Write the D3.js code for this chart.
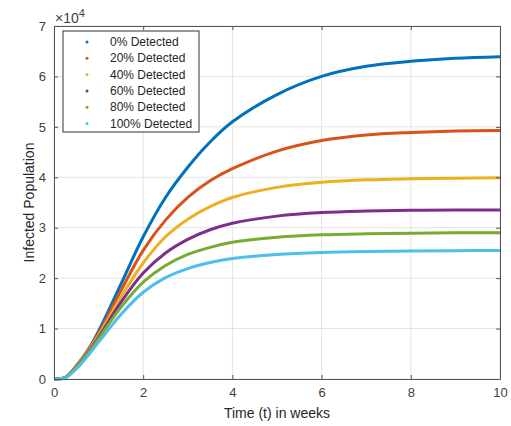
<!DOCTYPE html>
<html>
<head>
<meta charset="utf-8">
<script src="https://cdn.jsdelivr.net/npm/d3@7"></script>
<style>
  body { margin: 0; background: #fff; }
  svg { font-family: "Liberation Sans", Arial, sans-serif; }
</style>
</head>
<body>
<svg id="chart" width="511" height="426"></svg>
<script>
// données (valeurs en unités de 10^4)
const weeks = [0, 0.25, 0.5, 0.75, 1, 1.5, 2, 2.5, 3, 3.5, 4, 5, 6, 7, 8, 9, 10]
const det0 = [0, 0.03, 0.26, 0.56, 0.95, 1.88, 2.82, 3.6, 4.2, 4.7, 5.1, 5.64, 6.0, 6.2, 6.3, 6.36, 6.39]
const det20 = [0, 0.03, 0.26, 0.55, 0.9, 1.75, 2.55, 3.15, 3.6, 3.93, 4.17, 4.52, 4.73, 4.84, 4.89, 4.92, 4.93]
const det40 = [0, 0.03, 0.25, 0.53, 0.87, 1.62, 2.3, 2.82, 3.17, 3.42, 3.6, 3.8, 3.9, 3.95, 3.97, 3.98, 3.99]
const det60 = [0, 0.03, 0.24, 0.51, 0.83, 1.52, 2.1, 2.5, 2.77, 2.96, 3.09, 3.23, 3.3, 3.33, 3.345, 3.35, 3.35]
const det80 = [0, 0.03, 0.23, 0.49, 0.8, 1.42, 1.92, 2.25, 2.47, 2.61, 2.71, 2.81, 2.86, 2.88, 2.89, 2.9, 2.9]
const det100 = [0, 0.02, 0.2, 0.45, 0.73, 1.28, 1.72, 2.01, 2.19, 2.31, 2.39, 2.47, 2.51, 2.53, 2.54, 2.545, 2.55]
const labels = ["0% Detected", "20% Detected", "40% Detected", "60% Detected", "80% Detected", "100% Detected"]
const couleurs = ["#0072BD", "#D95319", "#EDB120", "#7E2F8E", "#77AC30", "#4DBEEE"]
const xTicks = [0, 2, 4, 6, 8, 10]
const yTicks = [0, 1, 2, 3, 4, 5, 6, 7]

const series = [det0, det20, det40, det60, det80, det100]

const svg = d3.select("#chart")
const mLeft = 54, mRight = 500, mTop = 26, mBottom = 379

const x = d3.scaleLinear().domain([0, 10]).range([mLeft, mRight])
const y = d3.scaleLinear().domain([0, 7]).range([mBottom, mTop])

// grille
const grille = svg.append("g")
grille.selectAll(".gx").data(xTicks).enter().append("line")
  .attr("x1", d => x(d)).attr("x2", d => x(d))
  .attr("y1", mTop).attr("y2", mBottom)
  .attr("stroke", "#e3e3e3").attr("stroke-width", 1)
grille.selectAll(".gy").data(yTicks).enter().append("line")
  .attr("x1", mLeft).attr("x2", mRight)
  .attr("y1", d => y(d)).attr("y2", d => y(d))
  .attr("stroke", "#e3e3e3").attr("stroke-width", 1)

// courbes
const ligne = d3.line()
  .x((d, i) => x(weeks[i]))
  .y(d => y(d))
  .curve(d3.curveCatmullRom.alpha(0.5))

svg.append("g").selectAll("path")
  .data(series)
  .enter()
  .append("path")
  .attr("d", d => ligne(d))
  .attr("fill", "none")
  .attr("stroke", (d, i) => couleurs[i])
  .attr("stroke-width", 3)

// axes (ticks vers l'intérieur, comme matlab)
const axeX = svg.append("g").attr("transform", `translate(0,${mBottom})`)
  .call(d3.axisBottom(x).tickValues(xTicks).tickSizeInner(-4).tickSizeOuter(0).tickPadding(9))
const axeY = svg.append("g").attr("transform", `translate(${mLeft},0)`)
  .call(d3.axisLeft(y).tickValues(yTicks).tickFormat(d3.format("d")).tickSizeInner(-4).tickSizeOuter(0).tickPadding(8))
const axeHaut = svg.append("g").attr("transform", `translate(0,${mTop})`)
  .call(d3.axisTop(x).tickValues(xTicks).tickSizeInner(-4).tickSizeOuter(0).tickFormat(""))
const axeDroit = svg.append("g").attr("transform", `translate(${mRight},0)`)
  .call(d3.axisRight(y).tickValues(yTicks).tickSizeInner(-4).tickSizeOuter(0).tickFormat(""))

;[axeX, axeY, axeHaut, axeDroit].forEach(a => {
  a.select(".domain").attr("stroke", "#555").attr("stroke-width", 1)
  a.selectAll(".tick line").attr("stroke", "#555")
  a.selectAll("text").attr("fill", "#404040").attr("font-size", 13)
    .attr("font-family", "Liberation Sans, Arial, sans-serif")
})

// exposant
const expo = svg.append("text")
  .attr("x", 55).attr("y", 23)
  .attr("fill", "#404040").attr("font-size", 14)
expo.append("tspan").text("\u00d710")
expo.append("tspan").text("4").attr("font-size", 11).attr("dy", -6)

// titres des axes
svg.append("text")
  .text("Time (t) in weeks")
  .attr("x", (mLeft + mRight) / 2)
  .attr("y", 418)
  .attr("text-anchor", "middle")
  .attr("fill", "#262626").attr("font-size", 14)

svg.append("text")
  .text("Infected Population")
  .attr("transform", `translate(34,${(mTop + mBottom) / 2}) rotate(-90)`)
  .attr("text-anchor", "middle")
  .attr("fill", "#262626").attr("font-size", 14)

// légende
const leg = svg.append("g")
leg.append("rect")
  .attr("x", 63).attr("y", 31)
  .attr("width", 136).attr("height", 101)
  .attr("fill", "#fff").attr("stroke", "#333").attr("stroke-width", 1)

const items = leg.selectAll(".item")
  .data(labels)
  .enter()
  .append("g")
  .attr("transform", (d, i) => `translate(0,${42 + i * 16.3})`)

items.append("circle")
  .attr("cx", 87).attr("cy", 0).attr("r", 1.5)
  .attr("fill", (d, i) => couleurs[i])

items.append("text")
  .text(d => d)
  .attr("x", 110).attr("y", 4)
  .attr("fill", "#262626").attr("font-size", 12)
</script>
</body>
</html>
